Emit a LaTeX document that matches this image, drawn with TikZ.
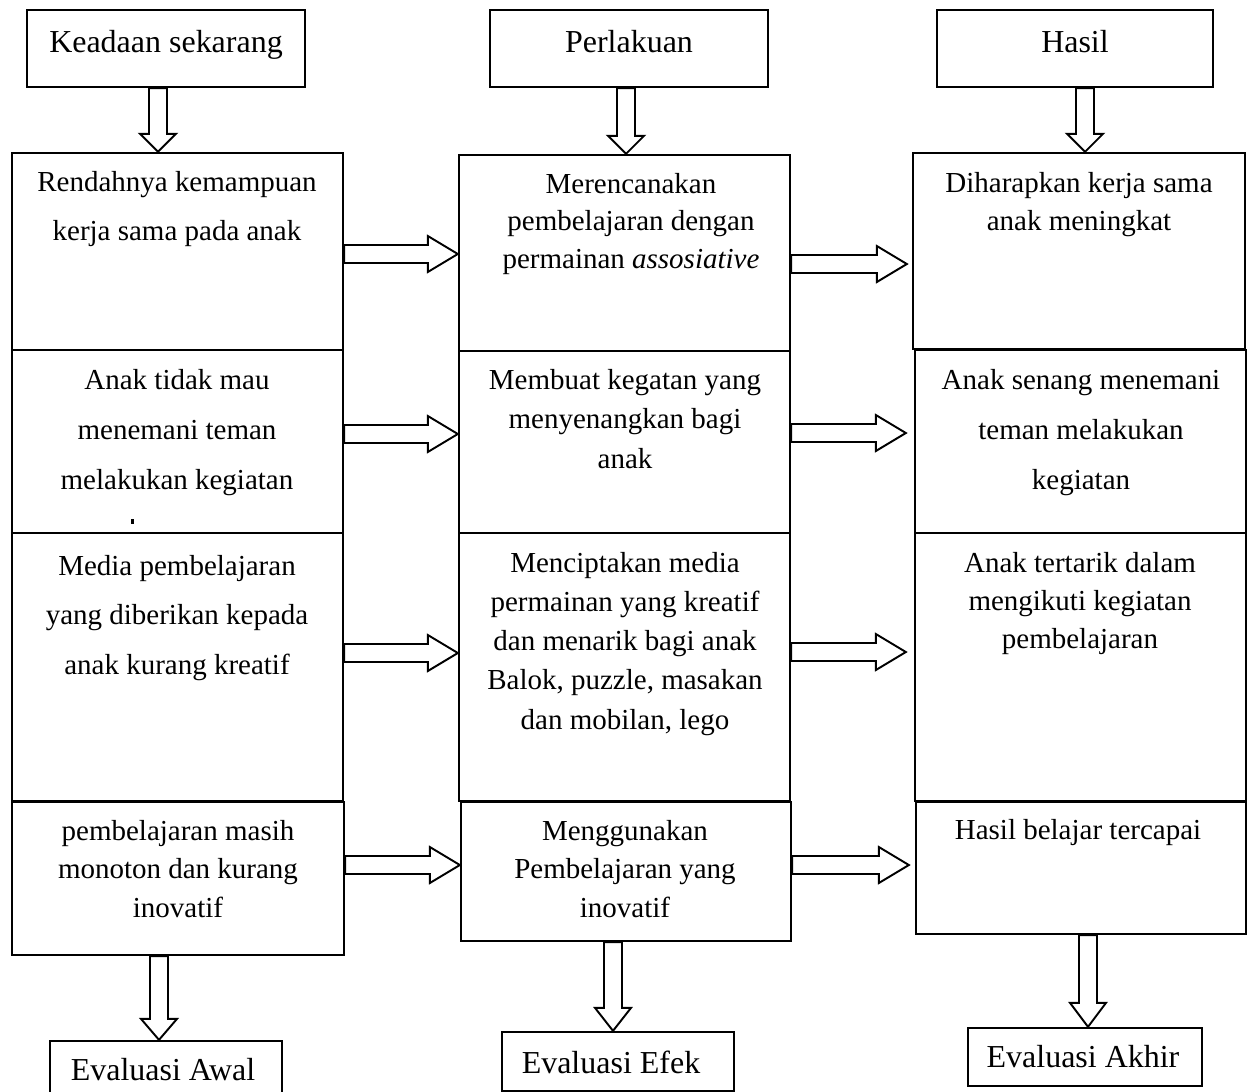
\documentclass[tikz,border=0pt]{standalone}
\usepackage{fontspec}
\setmainfont{Liberation Serif}
\usetikzlibrary{calc}
\tikzset{
  box/.style={draw, line width=1.3pt, inner sep=0pt},
  txt/.style={inner sep=0pt, anchor=north, align=center},
  body/.style={font=\fontsize{16.5}{#1}\selectfont},
  big/.style={font=\fontsize{18.2}{22}\selectfont, inner sep=0pt, anchor=base},
  fat/.style={draw, line width=1.1pt, fill=white, line join=miter},
}
\newcommand\mkbox[5]{\node[box, minimum width={(#4-#2)*0.02cm}, minimum height={(#5-#3)*0.02cm}] (#1) at ({(#2+#4)/2},{(#3+#5)/2}) {};}
\newcommand\harrow[2]{\draw[fat] ($#1+(0,9)$) -- ($#2+(-30,9)$) -- ($#2+(-30,18)$) -- #2 -- ($#2+(-30,-18)$) -- ($#2+(-30,-9)$) -- ($#1+(0,-9)$) -- cycle;}
\newcommand\varrow[3]{\draw[fat] ($#1+(-9,0)$) -- ($#2+(-9,-#3)$) -- ($#2+(-18,-#3)$) -- #2 -- ($#2+(18,-#3)$) -- ($#2+(9,-#3)$) -- ($#1+(9,0)$) -- cycle;}
\newcommand\fl{\rule{0pt}{13pt}}
\begin{document}
\begin{tikzpicture}[x=0.02cm, y=-0.02cm]
\useasboundingbox (0,0) rectangle (1251,1092);
\clip (0,0) rectangle (1251,1092);
% header boxes
\mkbox{h1}{27}{10}{305}{87}
\mkbox{h2}{490}{10}{768}{87}
\mkbox{h3}{937}{10}{1213}{87}
% column 1
\mkbox{a1}{12}{153}{343}{350}
\mkbox{a2}{12}{350}{343}{533}
\mkbox{a3}{12}{533}{343}{801}
\mkbox{a4}{12}{802}{344}{955}
% column 2
\mkbox{b1}{459}{155}{790}{351}
\mkbox{b2}{459}{351}{790}{533}
\mkbox{b3}{459}{533}{790}{801}
\mkbox{b4}{461}{802}{791}{941}
% column 3
\mkbox{c1}{913}{153}{1245}{349}
\mkbox{c2}{915}{350}{1246}{533}
\mkbox{c3}{915}{533}{1246}{801}
\mkbox{c4}{916}{802}{1246}{934}
% evaluation boxes
\mkbox{e1}{50}{1041}{282}{1110}
\mkbox{e2}{502}{1032}{734}{1091}
\mkbox{e3}{968}{1028}{1202}{1086}

% header texts
\node[big] (th1) at (166,52) {Keadaan sekarang};
\node[big] (th2) at (629,52) {Perlakuan};
\node[big] (th3) at (1075,52) {Hasil};
\node[big] (te1) at (163,1080) {Evaluasi Awal};
\node[big] (te2) at (611,1073) {Evaluasi Efek};
\node[big] (te3) at (1083,1067) {Evaluasi Akhir};

% body texts
\node[txt, body=27.9pt] (ta1) at ($(177,191)+(0,13pt)$) {\fl Rendahnya kemampuan\\kerja sama pada anak};
\node[txt, body=28.4pt] (ta2) at ($(177,389)+(0,13pt)$) {\fl Anak tidak mau\\menemani teman\\melakukan kegiatan};
\node[txt, body=28.2pt] (ta3) at ($(177,575)+(0,13pt)$) {\fl Media pembelajaran\\yang diberikan kepada\\anak kurang kreatif};
\node[txt, body=21.9pt] (ta4) at ($(178,840)+(0,13pt)$) {\fl pembelajaran masih\\monoton dan kurang\\inovatif};
\node[txt, body=21.3pt] (tb1) at ($(631,193)+(0,13pt)$) {\fl Merencanakan\\pembelajaran dengan\\permainan \textit{assosiative}};
\node[txt, body=22.5pt] (tb2) at ($(625,389)+(0,13pt)$) {\fl Membuat kegatan yang\\menyenangkan bagi\\anak};
\node[txt, body=22.3pt] (tb3) at ($(625,572)+(0,13pt)$) {\fl Menciptakan media\\permainan yang kreatif\\dan menarik bagi anak\\Balok, puzzle, masakan\\dan mobilan, lego};
\node[txt, body=21.9pt] (tb4) at ($(625,840)+(0,13pt)$) {\fl Menggunakan\\Pembelajaran yang\\inovatif};
\node[txt, body=21.8pt] (tc1) at ($(1079,192)+(0,13pt)$) {\fl Diharapkan kerja sama\\anak meningkat};
\node[txt, body=28.4pt] (tc2) at ($(1081,389)+(0,13pt)$) {\fl Anak senang menemani\\teman melakukan\\kegiatan};
\node[txt, body=21.6pt] (tc3) at ($(1080,572)+(0,13pt)$) {\fl Anak tertarik dalam\\mengikuti kegiatan\\pembelajaran};
\node[txt, body=21.9pt] (tc4) at ($(1078,839)+(0,13pt)$) {\fl Hasil belajar tercapai};

% stray mark
\fill (131,519) rectangle (133.5,524);

% top arrows
\varrow{(158,0 |- h1.south)}{(158,0 |- a1.north)}{18}
\varrow{(626,0 |- h2.south)}{(626,0 |- b1.north)}{18}
\varrow{(1085,0 |- h3.south)}{(1085,0 |- c1.north)}{18}

% bottom arrows
\varrow{(159,0 |- a4.south)}{(159,0 |- e1.north)}{21}
\varrow{(613,0 |- b4.south)}{(613,0 |- e2.north)}{23}
\varrow{(1088,0 |- c4.south)}{(1088,0 |- e3.north)}{24}

% horizontal arrows
\coordinate (t1) at ($(c1.west |- 0,264)+(-5,0)$);
\coordinate (t2) at ($(c2.west |- 0,433)+(-8,0)$);
\coordinate (t3) at ($(c3.west |- 0,652)+(-8,0)$);
\coordinate (t4) at ($(c4.west |- 0,865)+(-6,0)$);
\harrow{(a1.east |- 0,254)}{(b1.west |- 0,254)}
\harrow{(b1.east |- 0,264)}{(t1)}
\harrow{(a2.east |- 0,434)}{(b2.west |- 0,434)}
\harrow{(b2.east |- 0,433)}{(t2)}
\harrow{(a3.east |- 0,653)}{(b3.west |- 0,653)}
\harrow{(b3.east |- 0,652)}{(t3)}
\harrow{(a4.east |- 0,865)}{(b4.west |- 0,865)}
\harrow{(b4.east |- 0,865)}{(t4)}
\end{tikzpicture}
\end{document}
